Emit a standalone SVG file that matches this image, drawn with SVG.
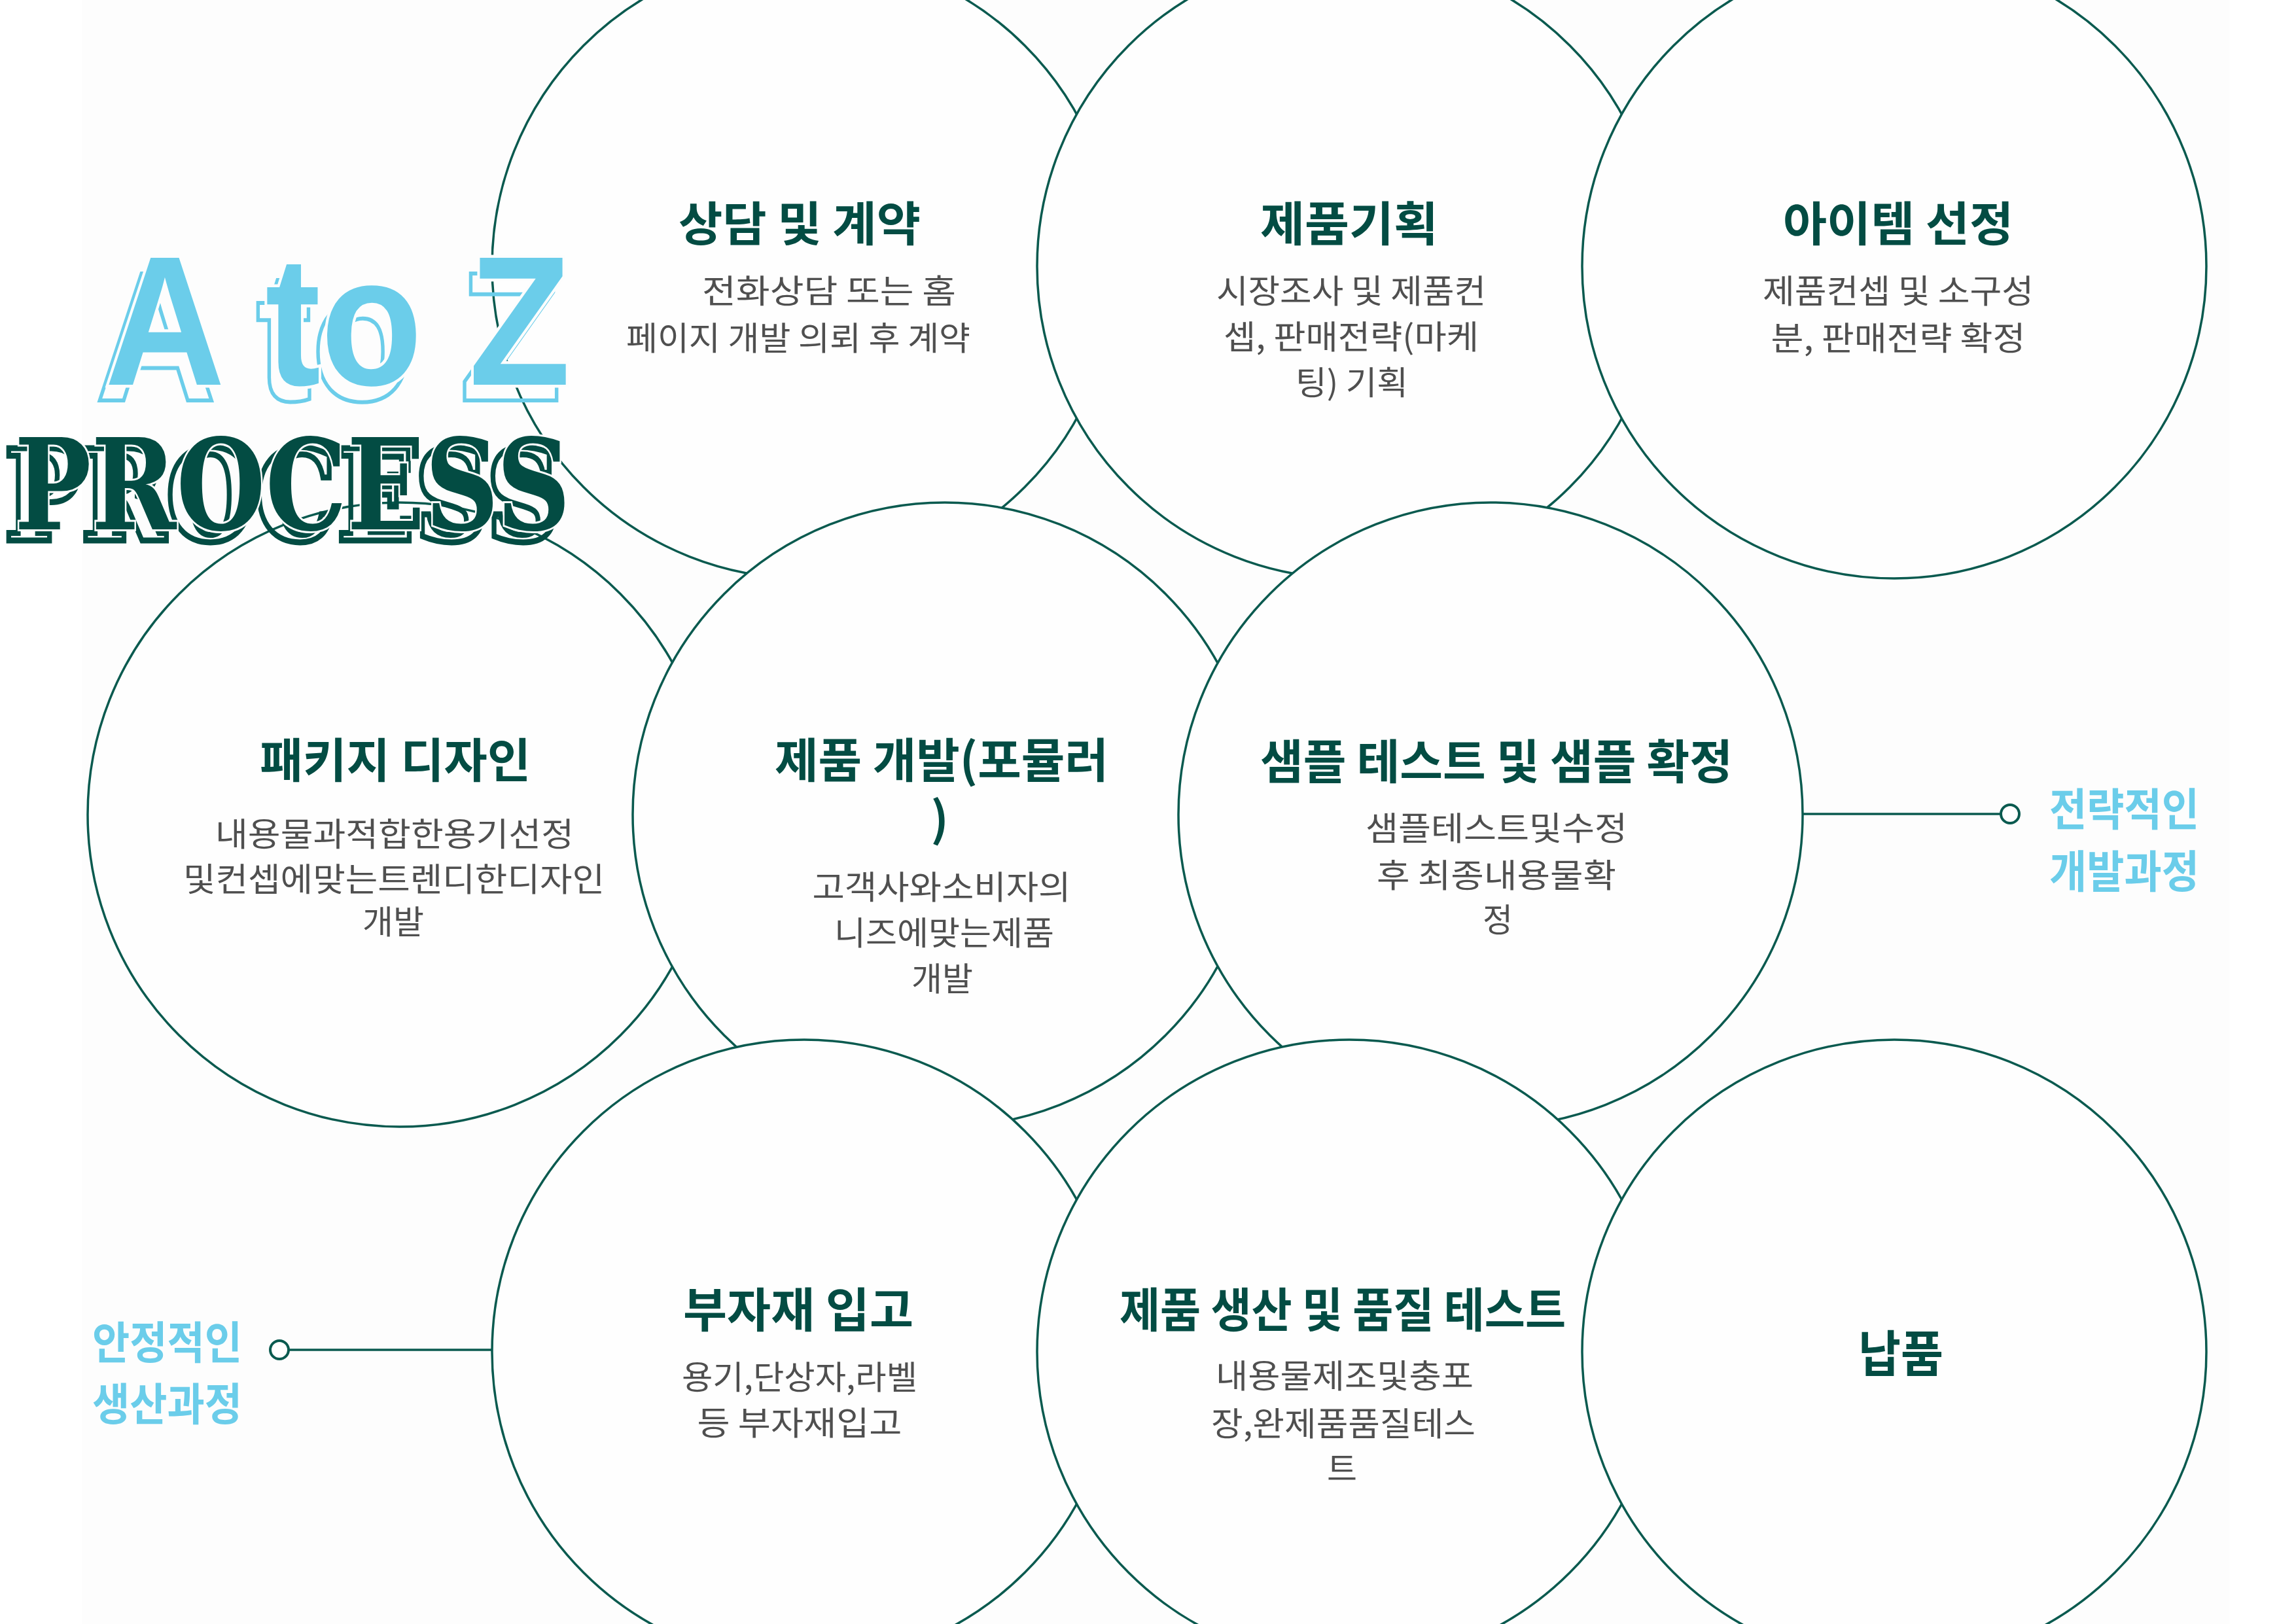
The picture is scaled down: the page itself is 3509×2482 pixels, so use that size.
<svg xmlns="http://www.w3.org/2000/svg" width="3509" height="2482" viewBox="0 0 3509 2482">
<style>
.node{fill:#fefefe;stroke:#0a5a4f;stroke-width:3.5}
.ttl{font-family:"Noto Sans CJK KR","Noto Sans",sans-serif;font-weight:700;font-size:72px;fill:#034c43;text-anchor:middle}
.bd{font-family:"Noto Sans CJK KR","Noto Sans",sans-serif;font-weight:400;font-size:50px;fill:#4f4f4f;text-anchor:middle}
.lbl{font-family:"Noto Sans CJK KR","Noto Sans",sans-serif;font-weight:700;font-size:68px;fill:#6bcdea}
.con{stroke:#0a5a4f;stroke-width:3.5;fill:none}
.dot{fill:#ffffff;stroke:#0a5a4f;stroke-width:4}
.az{font-family:"Liberation Sans",Arial,sans-serif;font-weight:700;font-size:282px}
.pr{font-family:"DejaVu Serif","Liberation Serif",serif;font-weight:700;font-size:192px}
</style>
<rect x="0" y="0" width="3509" height="2482" fill="#ffffff"/>
<rect x="125" y="0" width="3282" height="2482" fill="#fdfdfd"/>

<g id="n1"><circle class="node" cx="1229" cy="407" r="477"/>
<text class="ttl" x="1222" y="368" textLength="370" lengthAdjust="spacingAndGlyphs">상담 및 계약</text>
<text class="bd" x="1073" y="463" style="text-anchor:start" textLength="388" lengthAdjust="spacingAndGlyphs">전화상담 또는 홈</text>
<text class="bd" x="1220" y="535" textLength="526" lengthAdjust="spacingAndGlyphs">페이지 개발 의뢰 후 계약</text></g>

<g id="n2"><circle class="node" cx="2062" cy="407" r="477"/>
<text class="ttl" x="2062" y="368" textLength="272" lengthAdjust="spacingAndGlyphs">제품기획</text>
<text class="bd" x="2065" y="463" textLength="412" lengthAdjust="spacingAndGlyphs">시장조사 및 제품컨</text>
<text class="bd" x="2065" y="533" textLength="390" lengthAdjust="spacingAndGlyphs">셉, 판매전략(마케</text>
<text class="bd" x="2066" y="603" textLength="172" lengthAdjust="spacingAndGlyphs">팅) 기획</text></g>

<g id="n3"><circle class="node" cx="2895" cy="407" r="477"/>
<text class="ttl" x="2901" y="368" textLength="352" lengthAdjust="spacingAndGlyphs">아이템 선정</text>
<text class="bd" x="2901" y="463" textLength="414" lengthAdjust="spacingAndGlyphs">제품컨셉 및 소구성</text>
<text class="bd" x="2901" y="535" textLength="389" lengthAdjust="spacingAndGlyphs">분, 판매전략 확정</text></g>

<g id="n4"><circle class="node" cx="611" cy="1245" r="477"/>
<text class="ttl" x="604" y="1188" textLength="414" lengthAdjust="spacingAndGlyphs">패키지 디자인</text>
<text class="bd" x="603" y="1293" textLength="548" lengthAdjust="spacingAndGlyphs">내용물과적합한용기선정</text>
<text class="bd" x="602" y="1362" textLength="644" lengthAdjust="spacingAndGlyphs">및컨셉에맞는트렌디한디자인</text>
<text class="bd" x="601" y="1427" textLength="94" lengthAdjust="spacingAndGlyphs">개발</text></g>

<g id="n5"><circle class="node" cx="1444" cy="1245" r="477"/>
<text class="ttl" x="1439" y="1188" textLength="510" lengthAdjust="spacingAndGlyphs">제품 개발(포뮬러</text>
<text class="ttl" x="1436" y="1278">)</text>
<text class="bd" x="1439" y="1374" textLength="395" lengthAdjust="spacingAndGlyphs">고객사와소비자의</text>
<text class="bd" x="1443" y="1444" textLength="336" lengthAdjust="spacingAndGlyphs">니즈에맞는제품</text>
<text class="bd" x="1440" y="1514" textLength="94" lengthAdjust="spacingAndGlyphs">개발</text></g>

<g id="n6"><circle class="node" cx="2278" cy="1245" r="477"/>
<text class="ttl" x="2287" y="1190" textLength="722" lengthAdjust="spacingAndGlyphs">샘플 테스트 및 샘플 확정</text>
<text class="bd" x="2287" y="1284" textLength="400" lengthAdjust="spacingAndGlyphs">샘플테스트및수정</text>
<text class="bd" x="2287" y="1356" textLength="366" lengthAdjust="spacingAndGlyphs">후 최종내용물확</text>
<text class="bd" x="2289" y="1424">정</text></g>

<g id="n7"><circle class="node" cx="1229" cy="2066" r="477"/>
<text class="ttl" x="1220" y="2028" textLength="352" lengthAdjust="spacingAndGlyphs">부자재 입고</text>
<text class="bd" x="1222" y="2123" textLength="360" lengthAdjust="spacingAndGlyphs">용기,단상자,라벨</text>
<text class="bd" x="1222" y="2193" textLength="313" lengthAdjust="spacingAndGlyphs">등 부자재입고</text></g>

<g id="n8"><circle class="node" cx="2062" cy="2066" r="477"/>
<text class="ttl" x="2052" y="2028" textLength="682" lengthAdjust="spacingAndGlyphs">제품 생산 및 품질 테스트</text>
<text class="bd" x="2055" y="2121" textLength="394" lengthAdjust="spacingAndGlyphs">내용물제조및충포</text>
<text class="bd" x="2053" y="2194" textLength="404" lengthAdjust="spacingAndGlyphs">장,완제품품질테스</text>
<text class="bd" x="2051" y="2263">트</text></g>

<g id="n9"><circle class="node" cx="2895" cy="2066" r="477"/>
<text class="ttl" x="2905" y="2097" style="font-size:76px" textLength="130" lengthAdjust="spacingAndGlyphs">납품</text></g>

<g id="connectors">
<line class="con" x1="2755" y1="1244" x2="3058" y2="1244"/>
<circle class="dot" cx="3072" cy="1244" r="14"/>
<line class="con" x1="441" y1="2063" x2="752" y2="2063"/>
<circle class="dot" cx="427" cy="2063" r="14"/>
</g>

<g id="label-right">
<text class="lbl" x="3132" y="1262" textLength="229" lengthAdjust="spacingAndGlyphs">전략적인</text>
<text class="lbl" x="3132" y="1357" textLength="229" lengthAdjust="spacingAndGlyphs">개발과정</text>
</g>
<g id="label-left">
<text class="lbl" x="141" y="2077" textLength="229" lengthAdjust="spacingAndGlyphs">안정적인</text>
<text class="lbl" x="141" y="2171" textLength="229" lengthAdjust="spacingAndGlyphs">생산과정</text>
</g>

<g id="title">
<text class="az" x="146" y="612" textLength="712" lengthAdjust="spacingAndGlyphs" fill="none" stroke="#6bcdea" stroke-width="6">A to Z</text>
<text class="az" x="160" y="588" textLength="712" lengthAdjust="spacingAndGlyphs" fill="#6bcdea" stroke="#fdfdfd" stroke-width="9" paint-order="stroke">A to Z</text>
<text class="pr" x="6" y="826" textLength="850" lengthAdjust="spacingAndGlyphs" fill="none" stroke="#034c43" stroke-width="9">PROCESS</text>
<text class="pr" x="22" y="809" textLength="850" lengthAdjust="spacingAndGlyphs" fill="#034c43" stroke="#fdfdfd" stroke-width="6" paint-order="stroke">PROCESS</text>
</g>
</svg>
